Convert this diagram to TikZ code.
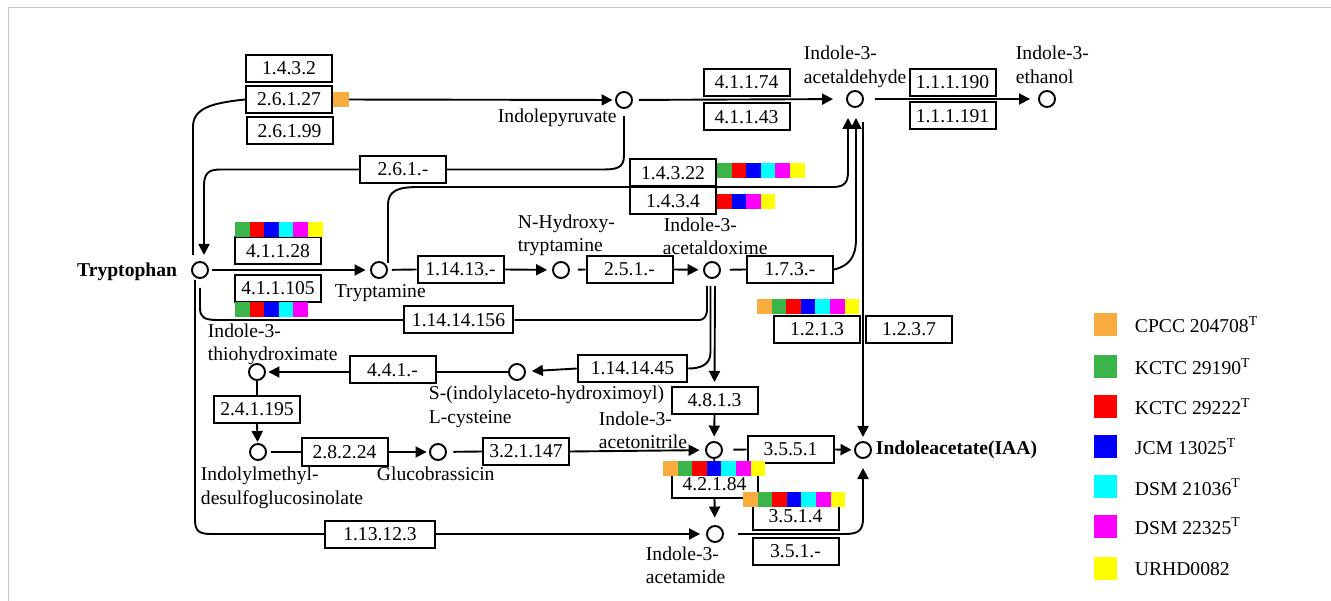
\documentclass[tikz,border=0pt]{standalone}
\usepackage{fontspec}
\setmainfont{Liberation Serif}
\usetikzlibrary{arrows.meta,calc}
\definecolor{cOr}{RGB}{247,172,61}
\definecolor{cG}{RGB}{59,180,74}
\definecolor{cR}{RGB}{255,0,0}
\definecolor{cB}{RGB}{0,0,255}
\definecolor{cC}{RGB}{0,255,255}
\definecolor{cM}{RGB}{255,0,255}
\definecolor{cY}{RGB}{255,255,0}
\definecolor{cFrame}{RGB}{200,200,200}
\newcommand\cbar[3]{\foreach \cc [count=\ii from 0] in {#3} {\fill[\cc] ({#1+\ii*14.6},#2) rectangle ++(14.6,15);}}
\begin{document}
\begin{tikzpicture}[x=1pt,y=-1pt,
  font=\fontsize{19.6}{23}\selectfont,
  line width=1.9pt,
  met/.style={circle,draw,minimum size=16pt,inner sep=0pt,line width=1.9pt},
  enz/.style={draw,rectangle,minimum width=86pt,minimum height=27pt,inner sep=0pt,line width=2pt},
  wide/.style={minimum width=109.5pt},
  arr/.style={-{Triangle[length=11pt,width=11pt]}},
  lbl/.style={anchor=base west,inner sep=0pt},
  lblb/.style={anchor=base west,inner sep=0pt,font=\fontsize{19.6}{23}\selectfont\bfseries},
  lgsq/.style={minimum size=23pt,inner sep=0pt}]
\useasboundingbox (0,0) rectangle (1331,601);
\draw[cFrame,line width=1.5pt] (8.5,601) -- (8.5,7.5) -- (1331,7.5);

% metabolites
\node[met] (trp) at (200,270) {};
\node[met] (tam) at (379,270) {};
\node[met] (nht) at (561,270) {};
\node[met] (iaox) at (712,270) {};
\node[met] (pyr) at (624,100) {};
\node[met] (iaald) at (855,99) {};
\node[met] (etoh) at (1047,99) {};
\node[met] (thio) at (257,372) {};
\node[met] (scys) at (517,372) {};
\node[met] (desulf) at (258,452) {};
\node[met] (glu) at (438,452) {};
\node[met] (ian) at (714,450) {};
\node[met] (iaa) at (863,450) {};
\node[met] (iam) at (715,534) {};

% enzymes
\node[enz] (e1432) at (289,68.5) {1.4.3.2};
\node[enz] (e26127) at (289,99.5) {2.6.1.27};
\node[enz] (e26199) at (289.5,131) {2.6.1.99};
\node[enz] (e261) at (403,169.5) {2.6.1.-};
\node[enz] (e41174) at (746.5,82.5) {4.1.1.74};
\node[enz] (e41143) at (746.5,117) {4.1.1.43};
\node[enz] (e111190) at (952.5,82.5) {1.1.1.190};
\node[enz] (e111191) at (952.5,116) {1.1.1.191};
\node[enz] (e14322) at (673,173) {1.4.3.22};
\node[enz] (e1434) at (673,201) {1.4.3.4};
\node[enz] (e41128) at (278,251) {4.1.1.28};
\node[enz] (e411105) at (278,288.5) {4.1.1.105};
\node[enz] (e11413) at (460.5,269.5) {1.14.13.-};
\node[enz] (e251) at (629.5,269.5) {2.5.1.-};
\node[enz] (e173) at (790,269.5) {1.7.3.-};
\node[enz,wide] (e1141456) at (458.5,320) {1.14.14.156};
\node[enz] (e1213) at (817,329.5) {1.2.1.3};
\node[enz] (e1237) at (909,329.5) {1.2.3.7};
\node[enz] (e441) at (392.5,370) {4.4.1.-};
\node[enz,wide] (e1141445) at (632.5,368.5) {1.14.14.45};
\node[enz] (e241195) at (257,409.5) {2.4.1.195};
\node[enz] (e4813) at (714.5,400.5) {4.8.1.3};
\node[enz] (e28224) at (344.5,452) {2.8.2.24};
\node[enz] (e321147) at (526,451.5) {3.2.1.147};
\node[enz] (e3551) at (790.5,449.5) {3.5.5.1};
\node[enz] (e42184) at (714.5,484) {4.2.1.84};
\node[enz] (e3514) at (795.5,516) {3.5.1.4};
\node[enz] (e351) at (795.5,551.5) {3.5.1.-};
\node[enz,wide] (e1131223) at (380,534) {1.13.12.3};

% connectors
\draw ($(trp)+(-7,-15)$) -- ($(trp)+(-7,-143)$) .. controls ($(trp)+(-7,-162)$) and ($(trp)+(12,-167)$) .. (e26127.west);
\draw[arr,shorten >=2.5pt] (e26127.east) -- (pyr);
\draw[arr,shorten <=6pt,shorten >=13pt] (pyr) -- (iaald);
\draw[arr,shorten <=11pt,shorten >=8pt] (iaald) -- (etoh);
\draw ($(pyr)+(0,16)$) -- ($(pyr)+(0,55)$) .. controls ($(pyr)+(0,69)$) and ($(pyr)+(-8,69.5)$) .. ($(pyr)+(-24,69.5)$) -- (e261.east);
\draw[arr] (e261.west) -- ($(trp)+(20,-100.5)$) .. controls ($(trp)+(8,-100.5)$) and ($(trp)+(4,-96)$) .. ($(trp)+(4,-84)$) -- ($(trp)+(4,-15)$);
\draw[arr,shorten <=3.5pt,shorten >=4.5pt] (trp) -- (tam);
\draw[arr] ($(tam)+(9,-7)$) -- ($(tam)+(9,-65)$) .. controls ($(tam)+(9,-80)$) and ($(tam)+(20,-83)$) .. ($(tam)+(40,-83)$) -- ($(iaald)+(-22,88)$) .. controls ($(iaald)+(-9,88)$) and ($(iaald)+(-7,82)$) .. ($(iaald)+(-7,72)$) -- ($(iaald)+(-7,19)$);
\draw[shorten <=4pt] (tam) -- (e11413.west);
\draw[arr,shorten >=5pt] (e11413.east) -- (nht);
\draw[shorten <=8pt] (nht) -- (e251.west);
\draw[arr,shorten >=4.5pt] (e251.east) -- (iaox);
\draw[shorten <=9pt] (iaox) -- (e173.west);
\draw[arr] (e173.east) .. controls ($(iaald)+(-6,167)$) and ($(iaald)+(1,158)$) .. ($(iaald)+(1,140)$) -- ($(iaald)+(1,19)$);
\draw[arr] ($(iaald)+(8,23)$) -- ($(iaa)+(0,-13)$);
\draw ($(trp)+(-5,10)$) -- ($(trp)+(-5,250)$) .. controls ($(trp)+(-5,262)$) and ($(trp)+(0,264)$) .. ($(trp)+(12,264)$) -- (e1131223.west);
\draw[arr,shorten >=6pt] (e1131223.east) -- (iam);
\draw ($(trp)+(0,18)$) -- ($(trp)+(0,38)$) .. controls ($(trp)+(0,48)$) and ($(trp)+(5,50)$) .. ($(trp)+(18,50)$) -- (e1141456.west);
\draw (e1141456.east) -- ($(iaox)+(-14,50)$) .. controls ($(iaox)+(-7,50)$) and ($(iaox)+(-5,46)$) .. ($(iaox)+(-5,38)$) -- ($(iaox)+(-5,16)$);
\draw ($(iaox)+(-1.5,16)$) -- ($(iaox)+(-1.5,82)$) .. controls ($(iaox)+(-1.5,94)$) and ($(iaox)+(-10,98.5)$) .. (e1141445.east);
\draw[arr,shorten >=6pt] (e1141445.west) -- (scys);
\draw[arr,shorten >=4pt] ($(iaox)+(3,16)$) -- (e4813.north);
\draw[arr,shorten >=4.5pt] (e4813.south) -- (ian);
\draw (scys) -- (e441.east |- scys);
\draw[arr,shorten >=2.5pt] (e441.west |- thio) -- (thio);
\draw (thio) -- (e241195.north);
\draw[arr,shorten >=1pt] (e241195.south) -- (desulf);
\draw[shorten <=4.5pt] (desulf) -- (e28224.west);
\draw[arr,shorten >=2.5pt] (e28224.east) -- (glu);
\draw[shorten <=6.5pt] (glu) -- (e321147.west);
\draw[arr,shorten >=5.5pt] (e321147.east) -- (ian);
\draw[shorten <=10.5pt] (ian) -- (e3551.west);
\draw[arr,shorten >=2.5pt] (e3551.east) -- (iaa);
\draw (ian) -- (e42184.north);
\draw[arr,shorten >=7.5pt] (e42184.south) -- (iam);
\draw[arr] ($(iam)+(23,0)$) -- ($(iaa)+(-18,84)$) .. controls ($(iaa)+(-4,84)$) and ($(iaa)+(0,80)$) .. ($(iaa)+(0,68)$) -- ($(iaa)+(0,18)$);

% colour bars
\fill[cOr] (333,92) rectangle (349,107);
\cbar{717}{163}{cG,cR,cB,cC,cM,cY}
\cbar{717}{194}{cR,cB,cM,cY}
\cbar{235}{222}{cG,cR,cB,cC,cM,cY}
\cbar{235}{302}{cG,cR,cB,cC,cM}
\cbar{757}{299}{cOr,cG,cR,cB,cC,cM,cY}
\cbar{663}{461}{cOr,cG,cR,cB,cC,cM,cY}
\cbar{743}{492}{cOr,cG,cR,cB,cC,cM,cY}

% labels
\node[lblb, anchor=base east] (ltrp) at (178,277) {Tryptophan};
\node[lbl] (ltam) at (334,298) {Tryptamine};
\node[lbl] (lpyr) at (497,123) {Indolepyruvate};
\node[lbl] (lald1) at (803,60) {Indole-3-};
\node[lbl] (lald2) at (803,84) {acetaldehyde};
\node[lbl] (leth1) at (1015,60) {Indole-3-};
\node[lbl] (leth2) at (1015,84) {ethanol};
\node[lbl] (lnht1) at (517,229) {N-Hydroxy-};
\node[lbl] (lnht2) at (517,252) {tryptamine};
\node[lbl] (lox1) at (663,232) {Indole-3-};
\node[lbl] (lox2) at (662,255) {acetaldoxime};
\node[lbl] (lth1) at (207,338) {Indole-3-};
\node[lbl] (lth2) at (207,361) {thiohydroximate};
\node[lbl] (lsc1) at (428,400) {S-(indolylaceto-hydroximoyl)};
\node[lbl] (lsc2) at (428,424) {L-cysteine};
\node[lbl] (lds1) at (200,480) {Indolylmethyl-};
\node[lbl] (lds2) at (200,504) {desulfoglucosinolate};
\node[lbl] (lglu) at (376,480) {Glucobrassicin};
\node[lbl] (lian1) at (598,426) {Indole-3-};
\node[lbl] (lian2) at (598,449) {acetonitrile};
\node[lblb] (liaa) at (875,455) {Indoleacetate(IAA)};
\node[lbl] (liam1) at (645,560) {Indole-3-};
\node[lbl] (liam2) at (645,583) {acetamide};

% legend
\node[lgsq,fill=cOr] (sq1) at (1105.5,325) {};
\node[lgsq,fill=cG] (sq2) at (1105.5,366.5) {};
\node[lgsq,fill=cR] (sq3) at (1105.5,406.5) {};
\node[lgsq,fill=cB] (sq4) at (1105.5,446.5) {};
\node[lgsq,fill=cC] (sq5) at (1105.5,486.5) {};
\node[lgsq,fill=cM] (sq6) at (1105.5,526.5) {};
\node[lgsq,fill=cY] (sq7) at (1105.5,568.5) {};
\node[lbl] (lg1) at (1134,333) {CPCC 204708\textsuperscript{T}};
\node[lbl] (lg2) at (1134,375) {KCTC 29190\textsuperscript{T}};
\node[lbl] (lg3) at (1134,415) {KCTC 29222\textsuperscript{T}};
\node[lbl] (lg4) at (1134,455) {JCM 13025\textsuperscript{T}};
\node[lbl] (lg5) at (1134,495) {DSM 21036\textsuperscript{T}};
\node[lbl] (lg6) at (1134,534) {DSM 22325\textsuperscript{T}};
\node[lbl] (lg7) at (1134,575) {URHD0082};
\end{tikzpicture}
\end{document}
